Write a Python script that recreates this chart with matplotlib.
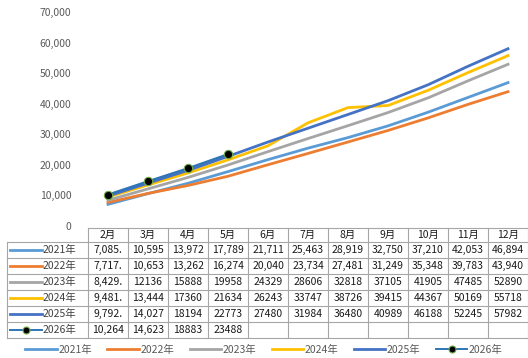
import matplotlib
matplotlib.use('Agg')
from matplotlib import pyplot as plt
from matplotlib.lines import Line2D

plt.rcParams['font.family'] = ['Noto Sans CJK SC', 'DejaVu Sans']

months = ['2月', '3月', '4月', '5月', '6月', '7月', '8月', '9月', '10月', '11月', '12月']
years = ['2021年', '2022年', '2023年', '2024年', '2025年', '2026年']

v2021 = [7085, 10595, 13972, 17789, 21711, 25463, 28919, 32750, 37210, 42053, 46894]
v2022 = [7717, 10653, 13262, 16274, 20040, 23734, 27481, 31249, 35348, 39783, 43940]
v2023 = [8429, 12136, 15888, 19958, 24329, 28606, 32818, 37105, 41905, 47485, 52890]
v2024 = [9481, 13444, 17360, 21634, 26243, 33747, 38726, 39415, 44367, 50169, 55718]
v2025 = [9792, 14027, 18194, 22773, 27480, 31984, 36480, 40989, 46188, 52245, 57982]
v2026 = [10264, 14623, 18883, 23488]

# table text as shown in the source (some cells are cut off)
t2021 = ['7,085.', '10,595', '13,972', '17,789', '21,711', '25,463', '28,919', '32,750', '37,210', '42,053', '46,894']
t2022 = ['7,717.', '10,653', '13,262', '16,274', '20,040', '23,734', '27,481', '31,249', '35,348', '39,783', '43,940']
t2023 = ['8,429.', '12136', '15888', '19958', '24329', '28606', '32818', '37105', '41905', '47485', '52890']
t2024 = ['9,481.', '13,444', '17360', '21634', '26243', '33747', '38726', '39415', '44367', '50169', '55718']
t2025 = ['9,792.', '14,027', '18194', '22773', '27480', '31984', '36480', '40989', '46188', '52245', '57982']
t2026 = ['10,264', '14,623', '18883', '23488']

series = [v2021, v2022, v2023, v2024, v2025, v2026]
texts = [t2021, t2022, t2023, t2024, t2025, t2026]
colors = ['#5B9BD5', '#ED7D31', '#A5A5A5', '#FFC000', '#4472C4', '#2E75B6']

W, H = 528, 358
fig = plt.figure(figsize=(W / 100, H / 100), dpi=100)

# chart area
ax = fig.add_axes([88 / W, (H - 226) / H, 440 / W, 214 / H])
x = list(range(len(months)))
for i, (vals, c) in enumerate(zip(series, colors)):
  if i == 5:
    ax.plot(x[:len(vals)], vals, color=c, lw=1.6, marker='o', ms=6,
            mfc='black', mec='#70AD47', mew=0.8, zorder=5)
  else:
    ax.plot(x[:len(vals)], vals, color=c, lw=2.0)
ax.set_xlim(-0.5, len(months) - 0.5)
ax.set_ylim(0, 70000)
ax.set_yticks(range(0, 70001, 10000))
ax.set_yticklabels([f'{v:,}' for v in range(0, 70001, 10000)], color='#595959', fontsize=7.5)
ax.tick_params(axis='y', length=0, pad=12)
ax.set_xticks([])
for s in ax.spines.values():
  s.set_visible(False)
ax.patch.set_alpha(0)

# data table underneath
tb = fig.add_axes([0, 0, 1, 1])
tb.set_xlim(0, W)
tb.set_ylim(H, 0)
tb.axis('off')
tb.patch.set_alpha(0)

grid_c = '#A6A6A6'
col0, colw = 88, 40
top, hdr, rowh = 228, 242, 16
bottom = hdr + rowh * len(years)
right = col0 + colw * len(months)

tb.plot([col0, right], [top, top], color=grid_c, lw=0.8)
for r in range(len(years) + 1):
  y = hdr + r * rowh
  tb.plot([7, right], [y, y], color=grid_c, lw=0.8)
tb.plot([7, 7], [hdr, bottom], color=grid_c, lw=0.8)
for c in range(len(months) + 1):
  xx = col0 + c * colw
  tb.plot([xx, xx], [top, bottom], color=grid_c, lw=0.8)

for c, m in enumerate(months):
  tb.text(col0 + c * colw + colw / 2, (top + hdr) / 2, m, ha='center', va='center',
          fontsize=7.5, color='#1a1a1a')

for r, (yr, c, row) in enumerate(zip(years, colors, texts)):
  yc = hdr + r * rowh + rowh / 2
  if r == 5:
    tb.plot([10, 42], [yc, yc], color=c, lw=1.4)
    tb.plot([26], [yc], marker='o', ms=5, mfc='black', mec='#70AD47', mew=0.8)
  else:
    tb.plot([10, 42], [yc, yc], color=c, lw=2.0)
  tb.text(43, yc, yr, ha='left', va='center', fontsize=7.5, color='#404040')
  for k, s in enumerate(row):
    tb.text(col0 + k * colw + colw / 2, yc, s, ha='center', va='center',
            fontsize=7.5, color='#1a1a1a')

# legend at the bottom
handles = []
for i, c in enumerate(colors):
  if i == 5:
    handles.append(Line2D([], [], color=c, lw=1.4, marker='o', ms=5,
                          mfc='black', mec='#70AD47', mew=0.8))
  else:
    handles.append(Line2D([], [], color=c, lw=2.0))
leg = fig.legend(handles, years, loc='center', bbox_to_anchor=(0.5, 1 - 350 / H),
                 ncol=6, frameon=False, fontsize=7.5, handlelength=3.0,
                 handletextpad=0.15, columnspacing=1.5)
for t in leg.get_texts():
  t.set_color('#595959')

fig.savefig('out.png', dpi=100)
